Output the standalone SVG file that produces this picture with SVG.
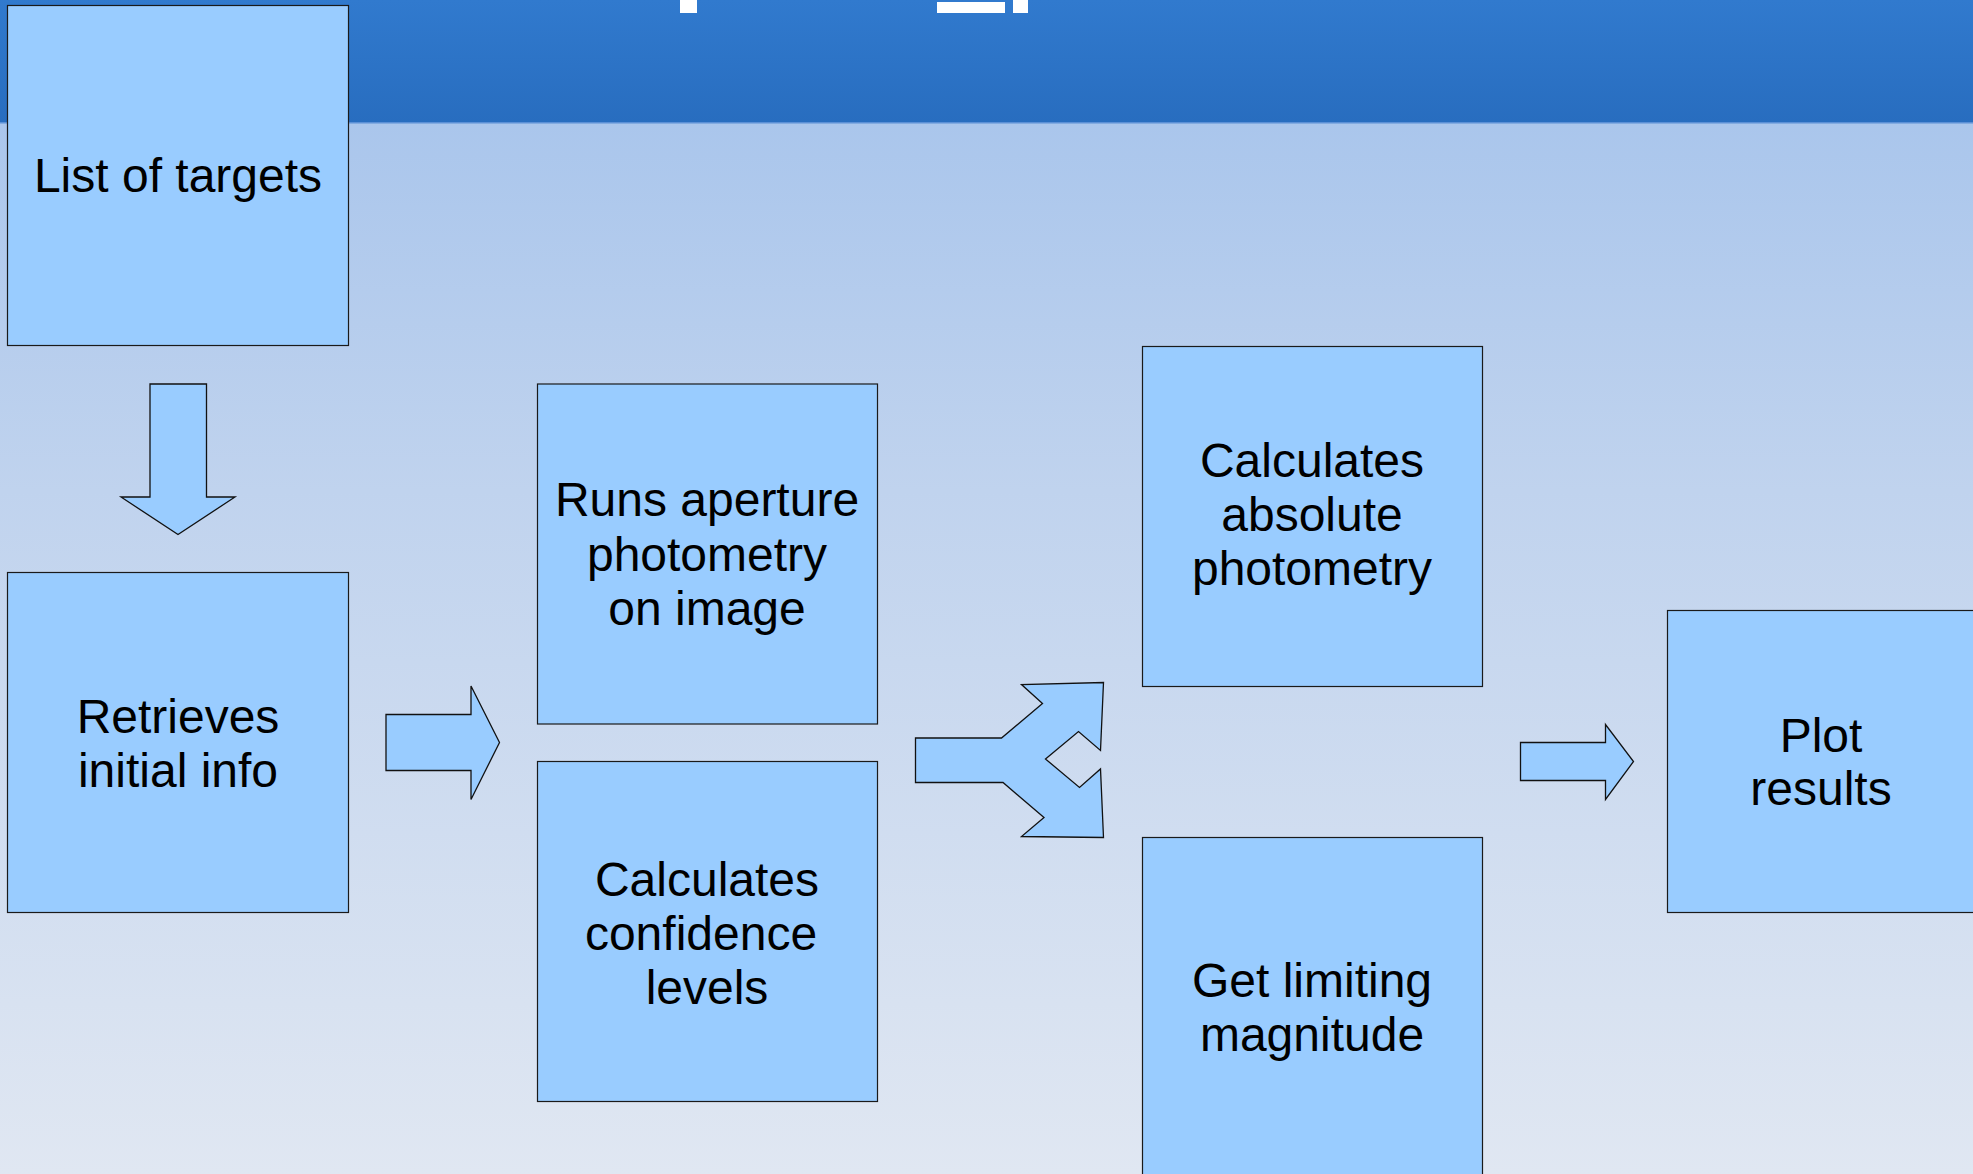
<svg xmlns="http://www.w3.org/2000/svg" width="1973" height="1174" viewBox="0 0 1973 1174">
  <defs>
    <linearGradient id="headerGrad" x1="0" y1="0" x2="0" y2="1">
      <stop offset="0" stop-color="#317ace"/>
      <stop offset="1" stop-color="#286dbf"/>
    </linearGradient>
    <linearGradient id="bodyGrad" x1="0" y1="0" x2="0" y2="1">
      <stop offset="0" stop-color="#aac6ec"/>
      <stop offset="0.35" stop-color="#c0d3ee"/>
      <stop offset="1" stop-color="#e0e7f2"/>
    </linearGradient>
    <style>
      .box { fill: #99ccff; stroke: #1a1a1a; stroke-width: 1.2; }
      .arrow { fill: #99ccff; stroke: #111; stroke-width: 1.3; stroke-linejoin: miter; }
      .label { font-family: "Liberation Sans", Arial, sans-serif; font-size: 48px; fill: #000; text-anchor: middle; }
      .title { fill: #ffffff; }
    </style>
  </defs>

  <!-- backdrop: header band and light body -->
  <rect x="0" y="123" width="1973" height="1051" fill="url(#bodyGrad)"/>
  <rect x="0" y="0" width="1973" height="123" fill="url(#headerGrad)"/>
  <rect x="0" y="122" width="1973" height="1.5" fill="#5b90d6"/>

  <!-- bottom edges of the title glyphs above the page top -->
  <g class="title">
    <rect x="680" y="0" width="17" height="13"/>
    <rect x="937" y="2" width="68" height="11"/>
    <rect x="1013" y="0" width="15" height="13"/>
  </g>

  <!-- process steps -->
  <g id="node-targets">
    <rect class="box" x="7.5" y="5.5" width="341" height="340"/>
    <text class="label" x="178" y="192">List of targets</text>
  </g>
  <g id="node-retrieve">
    <rect class="box" x="7.5" y="572.5" width="341" height="340"/>
    <text class="label" x="178" y="733">Retrieves</text>
    <text class="label" x="178" y="787">initial info</text>
  </g>
  <g id="node-aperture">
    <rect class="box" x="537.5" y="384" width="340" height="340"/>
    <text class="label" x="707" y="516">Runs aperture</text>
    <text class="label" x="707" y="571">photometry</text>
    <text class="label" x="707" y="625">on image</text>
  </g>
  <g id="node-confidence">
    <rect class="box" x="537.5" y="761.5" width="340" height="340"/>
    <text class="label" x="707" y="896">Calculates</text>
    <text class="label" x="701" y="950">confidence</text>
    <text class="label" x="707" y="1004">levels</text>
  </g>
  <g id="node-absolute">
    <rect class="box" x="1142.5" y="346.5" width="340" height="340"/>
    <text class="label" x="1312" y="477">Calculates</text>
    <text class="label" x="1312" y="531">absolute</text>
    <text class="label" x="1312" y="585">photometry</text>
  </g>
  <g id="node-limiting">
    <rect class="box" x="1142.5" y="837.5" width="340" height="340"/>
    <text class="label" x="1312" y="997">Get limiting</text>
    <text class="label" x="1312" y="1051">magnitude</text>
  </g>
  <g id="node-plot">
    <rect class="box" x="1667.5" y="610.5" width="340" height="302"/>
    <text class="label" x="1821" y="752">Plot</text>
    <text class="label" x="1821" y="805">results</text>
  </g>

  <!-- block arrows between steps -->
  <g id="connectors">
    <polygon class="arrow" points="150,384 206.5,384 206.5,497 235,497 178,534.5 121,497 150,497"/>
    <polygon class="arrow" points="386,714.5 471,714.5 471,686 499.5,742.5 471,799.5 471,770.5 386,770.5"/>
    <polygon class="arrow" points="915.5,738 1001.5,738 1042.5,703.5 1021.5,684.5 1103.5,682.5 1100.5,750.5 1078.5,731.5 1045.5,759 1079.5,787.5 1100.5,769 1103.5,837.5 1021.5,836.5 1044,817.5 1003,782.5 915.5,782.5"/>
    <polygon class="arrow" points="1520.5,742.5 1605.5,742.5 1605.5,724.5 1633.5,761.5 1605.5,799.5 1605.5,780.5 1520.5,780.5"/>
  </g>
</svg>
